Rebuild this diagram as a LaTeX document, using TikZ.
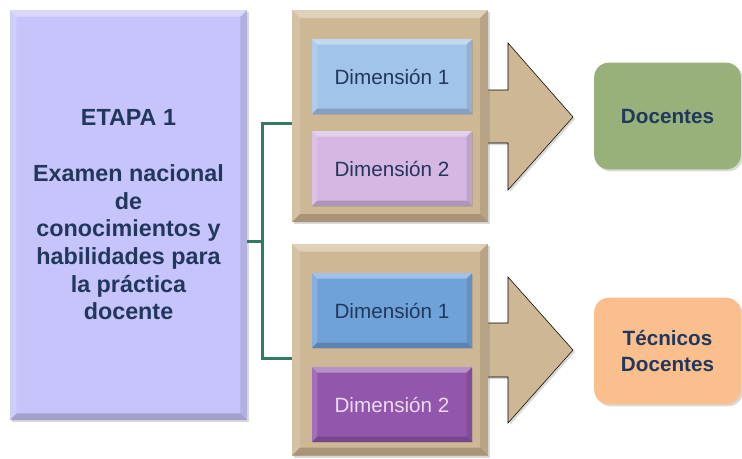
\documentclass[tikz,border=0pt]{standalone}
\usepackage{fontspec}
\setmainfont{Liberation Sans}
\usepackage{tikz}
\usetikzlibrary{shadows, calc}

\definecolor{lila}{RGB}{198,196,250}
\definecolor{arena}{RGB}{206,183,148}
\definecolor{azulclaro}{RGB}{163,196,234}
\definecolor{rosaclaro}{RGB}{214,182,226}
\definecolor{azul}{RGB}{112,162,218}
\definecolor{morado}{RGB}{146,86,172}
\definecolor{verde}{RGB}{152,177,122}
\definecolor{naranja}{RGB}{251,191,142}
\definecolor{tinta}{RGB}{33,56,92}
\definecolor{linea}{RGB}{52,122,98}

\tikzset{bisel/.style={path picture={
  \fill[white, opacity=0.35] (path picture bounding box.north west)
    -- (path picture bounding box.north east)
    -- ([xshift=-#1, yshift=-#1]path picture bounding box.north east)
    -- ([xshift=#1, yshift=-#1]path picture bounding box.north west) -- cycle;
  \fill[white, opacity=0.15] (path picture bounding box.north west)
    -- (path picture bounding box.south west)
    -- ([xshift=#1, yshift=#1]path picture bounding box.south west)
    -- ([xshift=#1, yshift=-#1]path picture bounding box.north west) -- cycle;
  \fill[black, opacity=0.18] (path picture bounding box.south west)
    -- (path picture bounding box.south east)
    -- ([xshift=-#1, yshift=#1]path picture bounding box.south east)
    -- ([xshift=#1, yshift=#1]path picture bounding box.south west) -- cycle;
  \fill[black, opacity=0.10] (path picture bounding box.north east)
    -- (path picture bounding box.south east)
    -- ([xshift=-#1, yshift=#1]path picture bounding box.south east)
    -- ([xshift=-#1, yshift=-#1]path picture bounding box.north east) -- cycle;
}}}

\tikzstyle{etapa} = [rectangle, 
minimum width=177.75pt, 
minimum height=307.5pt,
text centered, align=center,
fill=lila, bisel=5pt,
drop shadow={opacity=0.3, shadow xshift=1.5pt, shadow yshift=-1.5pt},
text=tinta, font=\bfseries\fontsize{17.5}{20.8}\selectfont]
\tikzstyle{grupo} = [rectangle, 
minimum width=147pt, 
minimum height=159pt,
fill=arena, bisel=6pt,
drop shadow={opacity=0.3, shadow xshift=1.5pt, shadow yshift=-1.5pt}]
\tikzstyle{dimension} = [rectangle, 
minimum width=120pt, 
minimum height=56pt,
text centered, bisel=4pt,
drop shadow={opacity=0.3, shadow xshift=1pt, shadow yshift=-1pt},
text=tinta, font=\fontsize{15.5}{18}\selectfont]
\tikzstyle{destino} = [rectangle, rounded corners=11pt,
minimum width=110pt, 
minimum height=80pt,
text centered, align=center,
drop shadow={opacity=0.3, shadow xshift=1.5pt, shadow yshift=-1.5pt},
text=tinta, font=\bfseries\fontsize{15.5}{20}\selectfont]
\tikzstyle{flecha} = [fill=arena, 
drop shadow={opacity=0.3, shadow xshift=1.5pt, shadow yshift=-1.5pt}]
\tikzstyle{conector} = [draw=linea, line width=2.25pt]

\begin{document}
\begin{tikzpicture}[x=0.75pt, y=-0.75pt]

    \useasboundingbox (0,0) rectangle (742,458);

    \node (etapa) [etapa] at (128.5,215) {ETAPA 1\\[20.8pt]Examen nacional\\de\\conocimientos y\\habilidades para\\la pr\'actica\\docente};

    % flechas grandes, debajo de los grupos
    \draw [flecha] (480,90) -- (508,90) -- (508,43) -- (573,117) -- (508,190) -- (508,143) -- (480,143) -- cycle;
    \draw [flecha] (480,323) -- (508,323) -- (508,277) -- (573,350) -- (508,423) -- (508,377) -- (480,377) -- cycle;

    \node (grupoA) [grupo] at (390,116) {};
    \node (grupoB) [grupo] at (390,349.5) {};

    \node (dimA1) [dimension, fill=azulclaro] at (392,76.5) {Dimensi\'on 1};
    \node (dimA2) [dimension, fill=rosaclaro] at (392,168.5) {Dimensi\'on 2};
    \node (dimB1) [dimension, fill=azul] at (392,310.5) {Dimensi\'on 1};
    \node (dimB2) [dimension, fill=morado, text=rosaclaro!50!white] at (392,404.5) {Dimensi\'on 2};

    \node (docentes) [destino, fill=verde] at (667.5,116) {Docentes};
    \node (tecnicos) [destino, fill=naranja] at (667.5,351) {T\'ecnicos\\Docentes};

    \coordinate (brazo) at (262,241);
    \draw [conector] ([yshift=-19.5pt]etapa.east) -- (brazo);
    \draw [conector] ([yshift=-5.25pt]grupoA.west) -| (brazo) |- ([yshift=-7.1pt]grupoB.west);

    \end{tikzpicture}
\end{document}
